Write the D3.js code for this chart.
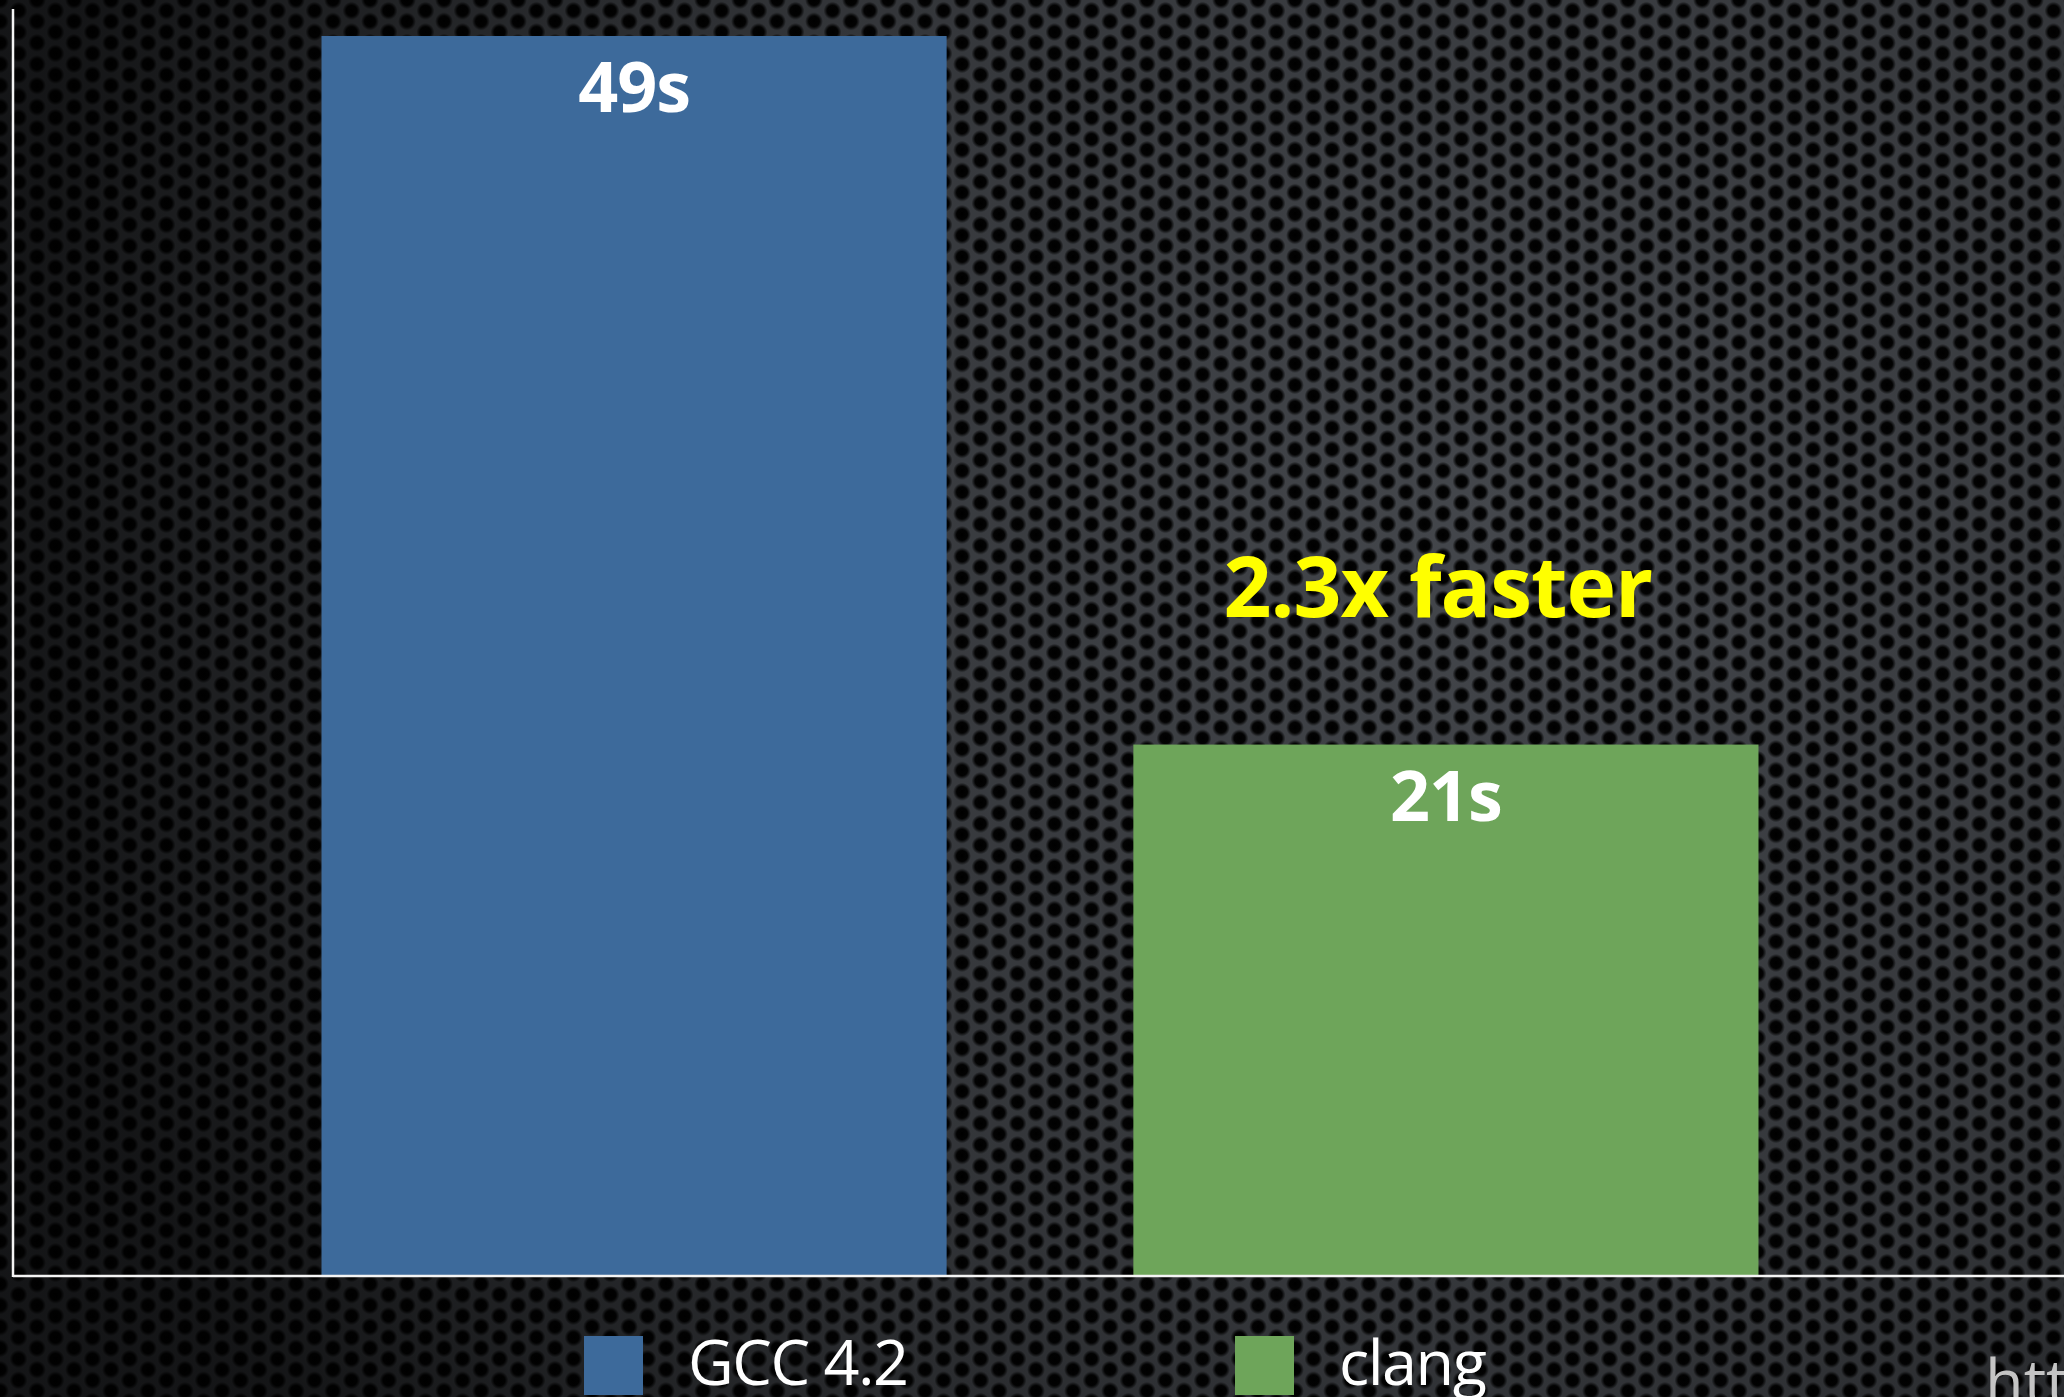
<!DOCTYPE html>
<html>
<head>
<meta charset="utf-8">
<script src="https://cdn.jsdelivr.net/npm/d3@7"></script>
<style>
  html, body { margin: 0; padding: 0; background: #111; overflow: hidden; }
  svg { display: block; }
</style>
</head>
<body>
<script>
const width = 2064;
const height = 1397;

// data
const compilers = ['GCC 4.2', 'clang'];
const seconds = [49, 21];
const valueLabels = ['49s', '21s'];
const colors = ['#3d6a9b', '#6ea55a'];
const callout = '2.3x faster';
const footnote = 'http://clang.llvm.org/';

const axisX = 13;
const baseY = 1276;

const x = d3.scaleBand()
  .domain(compilers)
  .range([axisX, 2067])
  .paddingInner(0.23)
  .paddingOuter(0.38);

const y = d3.scaleLinear()
  .domain([0, 49])
  .range([baseY, 36]);

const svg = d3.select('body')
  .append('svg')
  .attr('width', width)
  .attr('height', height)
  .attr('viewBox', [0, 0, width, height]);

const defs = svg.append('defs');

// perforated metal background
const hole = defs.append('radialGradient').attr('id', 'hole');
hole.append('stop').attr('offset', '0%').attr('stop-color', '#000');
hole.append('stop').attr('offset', '60%').attr('stop-color', '#030303');
hole.append('stop').attr('offset', '100%').attr('stop-color', '#000').attr('stop-opacity', 0);

const dx = 18.5;
const dy = 21.4;
const pattern = defs.append('pattern')
  .attr('id', 'mesh')
  .attr('patternUnits', 'userSpaceOnUse')
  .attr('width', dx * 2)
  .attr('height', dy);

pattern.append('rect')
  .attr('width', dx * 2)
  .attr('height', dy)
  .attr('fill', '#44474c');

pattern.selectAll('circle')
  .data([[0, 0], [dx * 2, 0], [0, dy], [dx * 2, dy], [dx, dy / 2]])
  .join('circle')
    .attr('cx', d => d[0])
    .attr('cy', d => d[1])
    .attr('r', 9)
    .attr('fill', 'url(#hole)');

const vignette = defs.append('radialGradient')
  .attr('id', 'vignette')
  .attr('gradientUnits', 'userSpaceOnUse')
  .attr('cx', 1500)
  .attr('cy', 520)
  .attr('r', 1500);
vignette.append('stop').attr('offset', '0%').attr('stop-color', '#000').attr('stop-opacity', 0);
vignette.append('stop').attr('offset', '55%').attr('stop-color', '#000').attr('stop-opacity', 0.25);
vignette.append('stop').attr('offset', '100%').attr('stop-color', '#000').attr('stop-opacity', 0.7);

svg.append('rect')
  .attr('width', width)
  .attr('height', height)
  .attr('fill', 'url(#mesh)');

svg.append('rect')
  .attr('width', width)
  .attr('height', height)
  .attr('fill', 'url(#vignette)');

// bars
const bars = svg.append('g')
  .selectAll('g')
  .data(compilers.map((name, i) => ({ name, value: seconds[i], label: valueLabels[i], color: colors[i] })))
  .join('g');

bars.append('rect')
  .attr('x', d => x(d.name))
  .attr('y', d => y(d.value))
  .attr('width', x.bandwidth())
  .attr('height', d => y(0) - y(d.value))
  .attr('fill', d => d.color);

bars.append('text')
  .attr('x', d => x(d.name) + x.bandwidth() / 2)
  .attr('y', d => y(d.value) + 76)
  .attr('text-anchor', 'middle')
  .attr('fill', '#fff')
  .style('font', '700 70px "Open Sans", sans-serif')
  .style('letter-spacing', '-1px')
  .text(d => d.label);

// callout over the clang bar
svg.append('text')
  .attr('x', x('clang') + x.bandwidth() / 2 - 8)
  .attr('y', y(21) - 128)
  .attr('text-anchor', 'middle')
  .attr('fill', '#ffff00')
  .style('font', '700 84px "Open Sans", sans-serif')
  .style('letter-spacing', '-1px')
  .text(callout);

// axes
const axes = svg.append('g')
  .attr('stroke', '#f4f4f4')
  .attr('stroke-width', 2.5)
  .attr('fill', 'none');

axes.append('line')
  .attr('x1', axisX).attr('x2', axisX)
  .attr('y1', 9).attr('y2', baseY + 1);

axes.append('line')
  .attr('x1', axisX).attr('x2', width)
  .attr('y1', baseY).attr('y2', baseY);

// legend
const legend = svg.append('g')
  .selectAll('g')
  .data(compilers)
  .join('g')
    .attr('transform', (d, i) => `translate(${584 + i * 651},1336)`);

legend.append('rect')
  .attr('width', 59)
  .attr('height', 59)
  .attr('fill', (d, i) => colors[i]);

legend.append('text')
  .attr('x', 104)
  .attr('y', 49)
  .attr('fill', '#fff')
  .style('font', '400 63px "Open Sans", sans-serif')
  .style('letter-spacing', '-1.5px')
  .text(d => d);

svg.append('text')
  .attr('x', 1985)
  .attr('y', 1404)
  .attr('fill', '#c4c4c4')
  .style('font', '400 63px "Open Sans", sans-serif')
  .text(footnote);
</script>
</body>
</html>
